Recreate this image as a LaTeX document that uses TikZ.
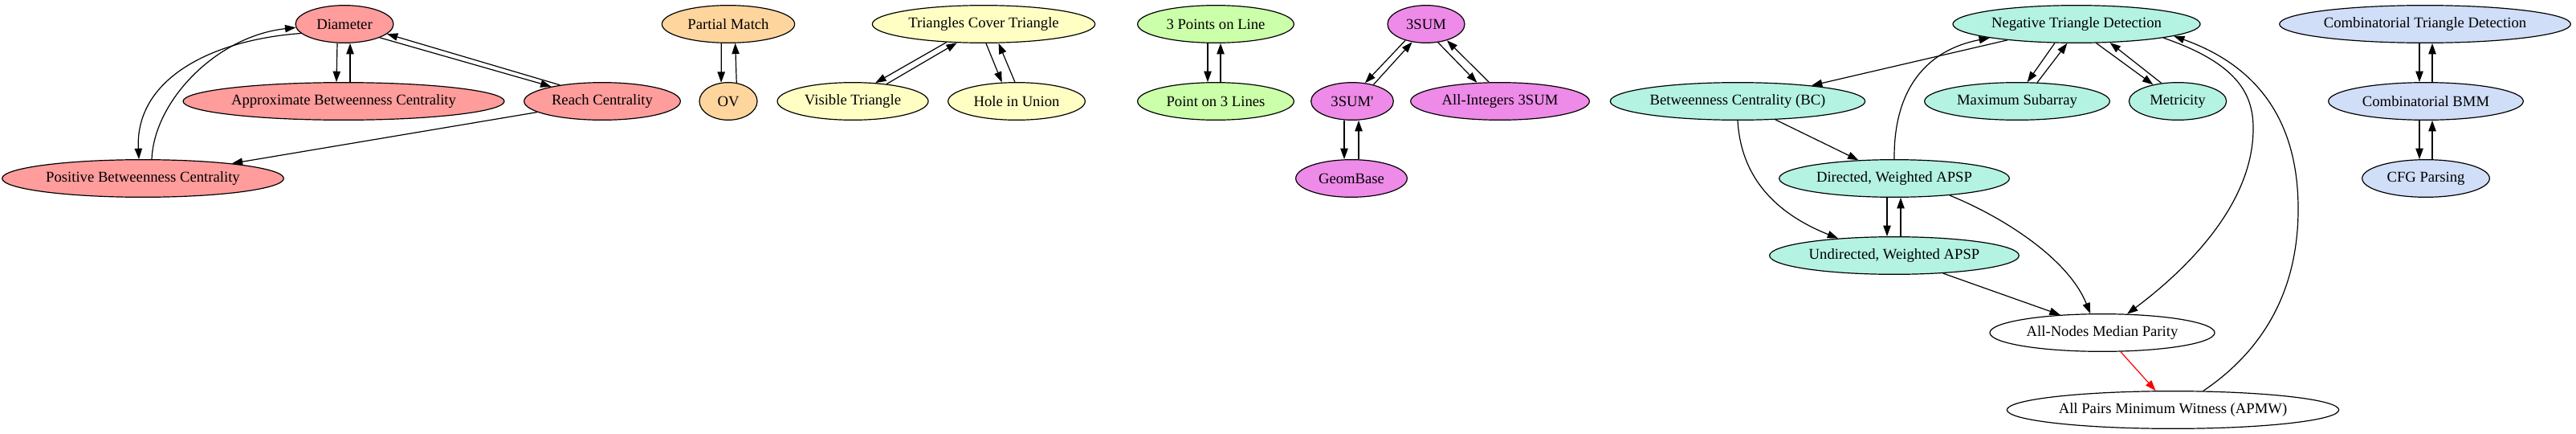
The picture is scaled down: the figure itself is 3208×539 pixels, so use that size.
\documentclass[tikz,border=0pt]{standalone}
\usepackage{fontspec}
\newfontfamily\gvfont{Liberation Serif}
\usetikzlibrary{shapes.geometric,arrows.meta,calc}
\definecolor{cRed}{HTML}{FF9C9C}
\definecolor{cOrange}{HTML}{FFD59E}
\definecolor{cYellow}{HTML}{FFFFC4}
\definecolor{cGreen}{HTML}{CCFFAA}
\definecolor{cViolet}{HTML}{EE8AE8}
\definecolor{cTeal}{HTML}{B4F2E2}
\definecolor{cBlue}{HTML}{D0DEF8}
\definecolor{cEdgeRed}{HTML}{FF0000}
\tikzset{
  gn/.style={ellipse, draw=black, line width=0.9pt, inner sep=0pt, minimum height=35pt,
    font=\gvfont\fontsize{14}{16}\selectfont},
  arr/.style={draw=black, line width=0.9pt, -{Triangle[length=10pt,width=7pt]}},
  redarr/.style={draw=cEdgeRed, line width=0.9pt, -{Triangle[length=10pt,width=7pt]}, cEdgeRed},
}
\begin{document}
\begin{tikzpicture}[x=0.75pt,y=-0.75pt]
\useasboundingbox (0,0) rectangle (3208,539);
% red group
\node[gn, fill=cRed, minimum width=91.5pt] (diam) at (429,30) {Diameter};
\node[gn, fill=cRed, minimum width=300pt] (abc) at (428,126) {Approximate Betweenness Centrality};
\node[gn, fill=cRed, minimum width=146pt] (reach) at (750,126) {Reach Centrality};
\node[gn, fill=cRed, minimum width=263pt] (pbc) at (178,222) {Positive Betweenness Centrality};
% orange group
\node[gn, fill=cOrange, minimum width=124pt] (pm) at (907,30) {Partial Match};
\node[gn, fill=cOrange, minimum width=54pt] (ov) at (907,126) {OV};
% yellow group
\node[gn, fill=cYellow, minimum width=208pt] (tct) at (1225,30) {Triangles Cover Triangle};
\node[gn, fill=cYellow, minimum width=141pt] (vt) at (1062,126) {Visible Triangle};
\node[gn, fill=cYellow, minimum width=128pt] (hiu) at (1266,126) {Hole in Union};
% green group
\node[gn, fill=cGreen, minimum width=146pt] (tpl) at (1514,30) {3 Points on Line};
\node[gn, fill=cGreen, minimum width=146pt] (pol) at (1514,126) {Point on 3 Lines};
% violet group
\node[gn, fill=cViolet, minimum width=72pt] (sum) at (1776,30) {3SUM};
\node[gn, fill=cViolet, minimum width=77pt] (sump) at (1684,126) {3SUM'};
\node[gn, fill=cViolet, minimum width=167pt] (ai) at (1868,126) {All-Integers 3SUM};
\node[gn, fill=cViolet, minimum width=104pt] (gb) at (1683,222) {GeomBase};
% teal group
\node[gn, fill=cTeal, minimum width=231pt] (ntd) at (2586,30) {Negative Triangle Detection};
\node[gn, fill=cTeal, minimum width=238pt] (bc) at (2164,126) {Betweenness Centrality (BC)};
\node[gn, fill=cTeal, minimum width=173pt] (ms) at (2512,126) {Maximum Subarray};
\node[gn, fill=cTeal, minimum width=91pt] (met) at (2712,126) {Metricity};
\node[gn, fill=cTeal, minimum width=215pt] (dapsp) at (2359,222) {Directed, Weighted APSP};
\node[gn, fill=cTeal, minimum width=233pt] (uapsp) at (2359,318) {Undirected, Weighted APSP};
\node[gn, fill=white, minimum width=210pt] (anmp) at (2618,414) {All-Nodes Median Parity};
\node[gn, fill=white, minimum width=310pt] (apmw) at (2706,510) {All Pairs Minimum Witness (APMW)};
% blue group
\node[gn, fill=cBlue, minimum width=272pt] (ctd) at (3020,30) {Combinatorial Triangle Detection};
\node[gn, fill=cBlue, minimum width=182pt] (cbmm) at (3021,126) {Combinatorial BMM};
\node[gn, fill=cBlue, minimum width=119pt] (cfg) at (3021,222) {CFG Parsing};
% bend points
\coordinate (ntdbend) at (2806,160);
\coordinate (apmwbend) at (2862,260);
% red group edges
\draw[arr] ($(diam.south)+(-9,0)$) -- ($(abc.north)+(-9,0)$);
\draw[arr] ($(abc.north)+(8,0)$) -- ($(diam.south)+(7,0)$);
\draw[arr] (diam.-21) -- (reach.164);
\draw[arr] (reach.159) -- (diam.-13);
\draw[arr] (diam.192) .. controls (260,50) and (168,100) .. ($(pbc.north)+(-5,0)$);
\draw[arr] ($(pbc.north)+(11,0)$) .. controls (192,125) and (270,45) .. (diam.184);
\draw[arr] (reach) -- (pbc);
% orange
\draw[arr] (pm.250) -- (ov.111);
\draw[arr] (ov.66) -- (pm.-70);
% yellow
\draw[arr] (tct.206) -- (vt.39);
\draw[arr] (vt.27) -- (tct.215);
\draw[arr] (tct.-83) -- (hiu.128);
\draw[arr] (hiu.95) -- (tct.-52);
% green
\draw[arr] ($(tpl.south)+(-10,0)$) -- ($(pol.north)+(-10,0)$);
\draw[arr] ($(pol.north)+(6,0)$) -- ($(tpl.south)+(6,0)$);
% violet
\draw[arr] (sum.218) -- (sump.55);
\draw[arr] (sump.38) -- (sum.232);
\draw[arr] (sum.-57) -- (ai.141);
\draw[arr] (ai.120) -- (sum.-38);
\draw[arr] ($(sump.south)+(-10,0)$) -- ($(gb.north)+(-9,0)$);
\draw[arr] ($(gb.north)+(9,0)$) -- ($(sump.south)+(8,0)$);
% teal
\draw[arr] (ntd.193) -- (bc.12);
\draw[arr] (dapsp.north) .. controls (2358,110) and (2400,62) .. (ntd.189);
\draw[arr] (ntd.221) -- (ms.62);
\draw[arr] (ms.43) -- (ntd.244);
\draw[arr] (ntd.-44) -- (met.146);
\draw[arr] (met.132) -- (ntd.-29);
\draw[arr] (bc.-26) -- (dapsp.153);
\draw[arr] (bc.south) .. controls (2168,220) and (2210,265) .. (uapsp.163);
\draw[arr] ($(dapsp.south)+(-9,0)$) -- ($(uapsp.north)+(-9,0)$);
\draw[arr] ($(uapsp.north)+(8,0)$) -- ($(dapsp.south)+(8,0)$);
\draw[arr] (dapsp.-17) .. controls (2490,268) and (2575,320) .. (anmp.122);
\draw[arr] (uapsp.-20) -- (anmp.157);
\draw[arr] (ntd.-9) .. controls (2790,80) and (2806,120) .. (ntdbend) .. controls (2806,250) and (2730,330) .. (anmp.37.5);
\draw[redarr] (anmp.-46) -- (apmw.132.5);
\draw[arr] (apmw.32) .. controls (2820,435) and (2862,360) .. (apmwbend) .. controls (2862,160) and (2820,85) .. (ntd.-7);
% blue
\draw[arr] ($(ctd.south)+(-7,0)$) -- ($(cbmm.north)+(-8,0)$);
\draw[arr] ($(cbmm.north)+(8,0)$) -- ($(ctd.south)+(9,0)$);
\draw[arr] ($(cbmm.south)+(-8,0)$) -- ($(cfg.north)+(-8,0)$);
\draw[arr] ($(cfg.north)+(8,0)$) -- ($(cbmm.south)+(8,0)$);
\end{tikzpicture}
\end{document}
